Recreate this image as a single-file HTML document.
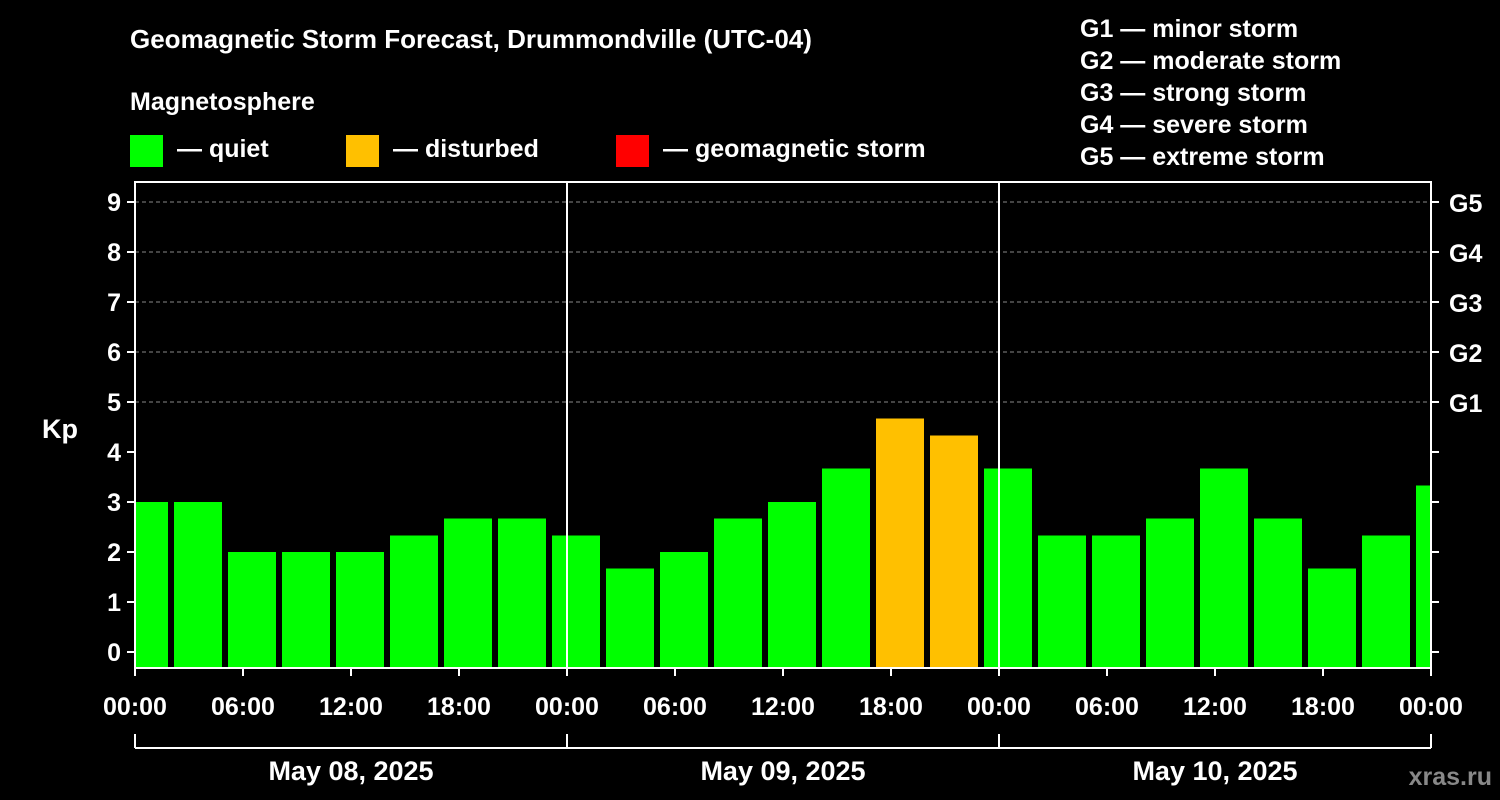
<!DOCTYPE html>
<html><head><meta charset="utf-8"><style>
body{margin:0;background:#000;}
svg{display:block;font-family:"Liberation Sans",Arial,sans-serif;font-weight:bold;}
</style></head><body>
<svg id="chart" width="1500" height="800">
<rect width="1500" height="800" fill="#000"/>
<text x="130" y="48" fill="#fff" font-size="26">Geomagnetic Storm Forecast, Drummondville (UTC-04)</text>
<text x="130" y="110" fill="#fff" font-size="25">Magnetosphere</text>
<g><rect x="130" y="135" width="33" height="32" fill="#00ff00"/><text x="177" y="157" fill="#fff" font-size="25">— quiet</text></g>
<g><rect x="346" y="135" width="33" height="32" fill="#ffc000"/><text x="393" y="157" fill="#fff" font-size="25">— disturbed</text></g>
<g><rect x="616" y="135" width="33" height="32" fill="#ff0000"/><text x="663" y="157" fill="#fff" font-size="25">— geomagnetic storm</text></g>
<g fill="#fff" font-size="25">
<text x="1080" y="37">G1 — minor storm</text><text x="1080" y="69">G2 — moderate storm</text><text x="1080" y="101">G3 — strong storm</text><text x="1080" y="133">G4 — severe storm</text><text x="1080" y="165">G5 — extreme storm</text></g>
<text x="42" y="438" fill="#fff" font-size="27">Kp</text>
<text x="1492" y="785" fill="#888" font-size="25" text-anchor="end">xras.ru</text>
<g id="plot"></g>
</svg>
<script>
const barHours=[0.5,3.5,6.5,9.5,12.5,15.5,18.5,21.5,24.5,27.5,30.5,33.5,36.5,39.5,42.5,45.5,48.5,51.5,54.5,57.5,60.5,63.5,66.5,69.5,72.5];
const kpValues=[3,3,2,2,2,2.33,2.67,2.67,2.33,1.67,2,2.67,3,3.67,4.67,4.33,3.67,2.33,2.33,2.67,3.67,2.67,1.67,2.33,3.33];
const yTicks=[0,1,2,3,4,5,6,7,8,9];
const gLabels=["","","","","","G1","G2","G3","G4","G5"];
const xTickLabels=["00:00","06:00","12:00","18:00","00:00","06:00","12:00","18:00","00:00","06:00","12:00","18:00","00:00"];
const dayLabels=["May 08, 2025","May 09, 2025","May 10, 2025"];
const X0=135,X1=1431,HOURS=72,YT=182,YB=668;
const x=h=>X0+(X1-X0)*h/HOURS;
const y=v=>652-50*v;
const NS="http://www.w3.org/2000/svg";
const g=document.getElementById('plot');
function mk(t,a,p){const e=document.createElementNS(NS,t);for(const k in a)e.setAttribute(k,a[k]);(p||g).appendChild(e);return e;}
// grid
yTicks.forEach(v=>{if(v>=5){const l=mk('line',{x1:X0,x2:X1,y1:y(v),y2:y(v),stroke:'#888','stroke-dasharray':'4,3','stroke-width':1});

}});
// clip
const cp=mk('clipPath',{id:'pc'});mk('rect',{x:X0+1,y:YT,width:X1-X0-1,height:YB-YT},cp);
const bars=mk('g',{'clip-path':'url(#pc)'});


barHours.forEach((h,i)=>{const v=kpValues[i];const w=(x(3)-x(0))-6;
const r=mk('rect',{x:x(h)-w/2,y:y(v),width:w,height:YB-y(v),fill:v>=5?'#ff0000':(v>=4?'#ffc000':'#00ff00')},bars);

});
// day separators
[24,48].forEach(h=>{const l=mk('line',{x1:x(h),x2:x(h),y1:YT,y2:YB,stroke:'#fff','stroke-width':2});

});
const fr=mk('rect',{x:X0,y:YT,width:X1-X0,height:YB-YT,fill:'none',stroke:'#fff','stroke-width':2});


yTicks.forEach((v,i)=>{
mk('line',{x1:X0-8,x2:X0,y1:y(v),y2:y(v),stroke:'#fff','stroke-width':2});
mk('line',{x1:X1,x2:X1+8,y1:y(v),y2:y(v),stroke:'#fff','stroke-width':2});
const t=mk('text',{x:X0-14,y:y(v)+9,fill:'#fff','font-size':25,'text-anchor':'end'});t.textContent=v;


if(gLabels[i]){const s=mk('text',{x:X1+18,y:y(v)+10,fill:'#fff','font-size':25});s.textContent=gLabels[i];

}
});
xTickLabels.forEach((lab,i)=>{const xx=x(i*6);
mk('line',{x1:xx,x2:xx,y1:YB,y2:YB+8,stroke:'#fff','stroke-width':2});
const t=mk('text',{x:xx,y:715,fill:'#fff','font-size':25,'text-anchor':'middle'});t.textContent=lab;

});
mk('line',{x1:X0,x2:X1,y1:748,y2:748,stroke:'#fff','stroke-width':2});
[0,24,48,72].forEach(h=>mk('line',{x1:x(h),x2:x(h),y1:734,y2:748,stroke:'#fff','stroke-width':2}));
dayLabels.forEach((d,i)=>{const t=mk('text',{x:x(i*24+12),y:780,fill:'#fff','font-size':27,'text-anchor':'middle'});t.textContent=d;

});
</script>
</body></html>
